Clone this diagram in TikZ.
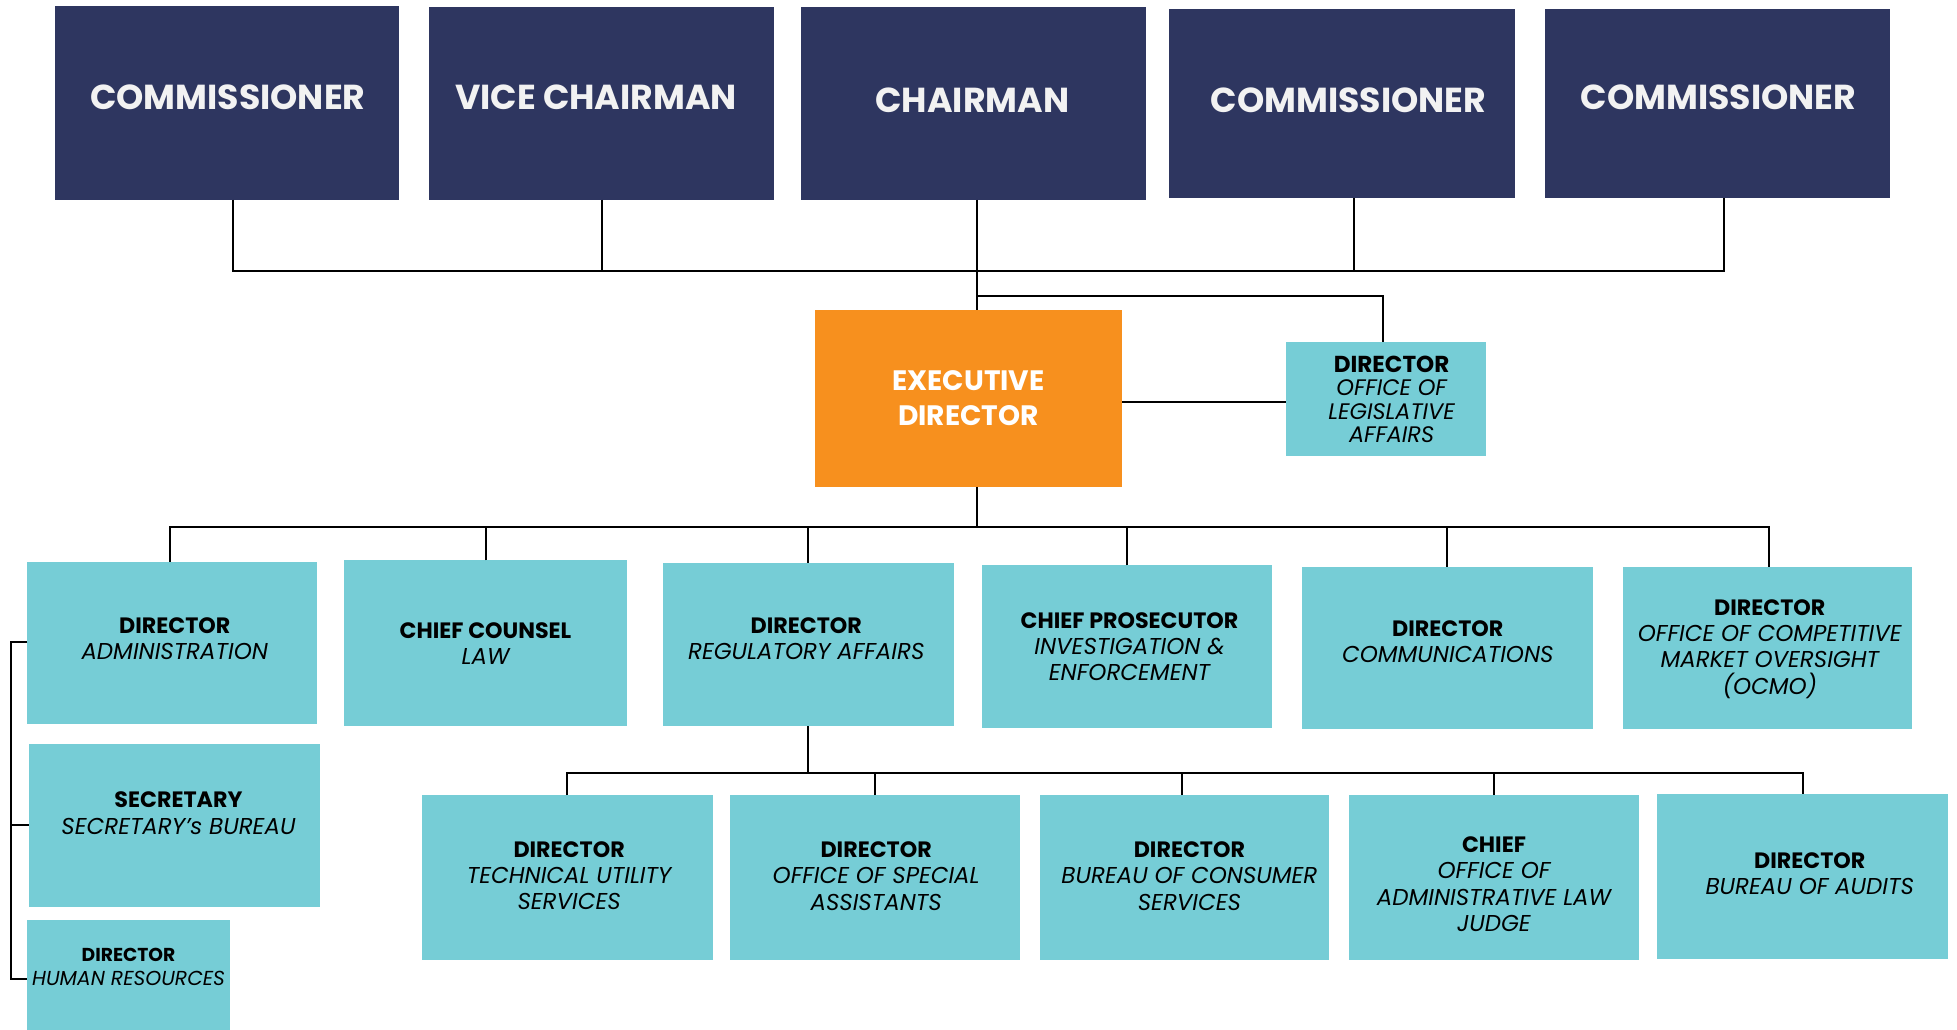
\documentclass[tikz,border=0pt]{standalone}
\usepackage{fontspec}
\setmainfont{Poppins}
\definecolor{navy}{HTML}{2E3660}
\definecolor{orng}{HTML}{F7901E}
\definecolor{teal}{HTML}{76CDD6}
\definecolor{offw}{HTML}{F2F2F2}
\newcommand{\hd}[1]{{\fontsize{\tbs}{\lsk}\selectfont\bfseries #1}}
\newcommand{\subt}[1]{{\fontsize{\tis}{\lsk}\selectfont\itshape #1}}
\tikzset{
  bx/.style={inner sep=0pt, outer sep=0pt, anchor=north west},
  navybox/.style={bx, fill=navy},
  orbox/.style={bx, fill=orng},
  tlbox/.style={bx, fill=teal},
  toptxt/.style={inner sep=0pt, text=offw, font=\fontsize{27.8}{32}\selectfont\bfseries},
  edtxt/.style={inner sep=0pt, text=white, align=center, font=\fontsize{22.5}{28}\selectfont\bfseries},
  txt/.style={inner sep=0pt, text=black, align=center, font={\def\tbs{17.8}\def\tis{18.4}\def\lsk{21}\fontsize{17.8}{21}\selectfont}},
  smtxt/.style={inner sep=0pt, text=black, align=center, font={\def\tbs{18.5}\def\tis{18}\def\lsk{18.7}\fontsize{18}{18.7}\selectfont}},
  hrtxt/.style={inner sep=0pt, text=black, align=center, font={\def\tbs{15}\def\tis{16.2}\def\lsk{19}\fontsize{15}{19}\selectfont}},
  conn/.style={draw=black, line width=1.6pt}
}
\newcommand{\bxat}[6]{\node[#1, minimum width={(#5-#3)*1pt}, minimum height={(#6-#4)*1pt}] (#2) at (#3,#4) {};}
\begin{document}
\begin{tikzpicture}[x=1pt,y=-1pt]
\useasboundingbox[fill=white] (0,0) rectangle (1568,824.5);
% top row
\bxat{navybox}{c1}{44}{5}{320}{160}
\bxat{navybox}{vc}{344}{6}{620}{160}
\bxat{navybox}{ch}{642}{6}{918}{160}
\bxat{navybox}{c4}{937}{7}{1214}{159}
\bxat{navybox}{c5}{1238}{7}{1514}{159}
\node[toptxt] (c1t) at (182.5,78) {COMMISSIONER};
\node[toptxt] (vct) at (477.5,78) {VICE CHAIRMAN};
\node[toptxt] (cht) at (779,80) {CHAIRMAN};
\node[toptxt] (c4t) at (1080.5,80) {COMMISSIONER};
\node[toptxt] (c5t) at (1377,78) {COMMISSIONER};
% executive director and legislative affairs
\bxat{orbox}{ed}{653}{248}{899}{390}
\node[edtxt] (edt) at (776,319) {EXECUTIVE\\DIRECTOR};
\bxat{tlbox}{leg}{1030}{274}{1191}{365}
\node[smtxt] (legt) at (1115,320) {\hd{DIRECTOR}\\\subt{OFFICE OF}\\\subt{LEGISLATIVE}\\\subt{AFFAIRS}};
% second row
\bxat{tlbox}{adm}{22}{450}{254}{580}
\bxat{tlbox}{cc}{276}{449}{502}{582}
\bxat{tlbox}{reg}{531}{451}{764}{582}
\bxat{tlbox}{pro}{787}{453}{1019}{583}
\bxat{tlbox}{com}{1043}{454}{1276}{584}
\bxat{tlbox}{ocmo}{1300}{454}{1532}{584}
\node[txt] (admt) at (140,512) {\hd{DIRECTOR}\\\subt{ADMINISTRATION}};
\node[txt] (cct) at (389,515.5) {\hd{CHIEF COUNSEL}\\\subt{LAW}};
\node[txt] (regt) at (646,512) {\hd{DIRECTOR}\\\subt{REGULATORY AFFAIRS}};
\node[txt] (prot) at (905,518) {\hd{CHIEF PROSECUTOR}\\\subt{INVESTIGATION \&}\\\subt{ENFORCEMENT}};
\node[txt] (comt) at (1160,514) {\hd{DIRECTOR}\\\subt{COMMUNICATIONS}};
\node[txt] (ocmot) at (1418,520) {\hd{DIRECTOR}\\\subt{OFFICE OF COMPETITIVE}\\\subt{MARKET OVERSIGHT}\\\subt{(OCMO)}};
% left column
\bxat{tlbox}{sec}{23}{596}{256}{727}
\bxat{tlbox}{hr}{22}{737}{184}{830}
\node[txt] (sect) at (143,651.5) {\hd{SECRETARY}\\\subt{SECRETARY's BUREAU}};
\node[hrtxt] (hrt) at (103,774.5) {\hd{DIRECTOR}\\\subt{HUMAN RESOURCES}};
% third row
\bxat{tlbox}{tech}{338}{637}{571}{769}
\bxat{tlbox}{spa}{585}{637}{817}{769}
\bxat{tlbox}{bcs}{833}{637}{1065}{769}
\bxat{tlbox}{alj}{1081}{637}{1313}{769}
\bxat{tlbox}{aud}{1328}{636}{1561}{768}
\node[txt] (techt) at (456,701.5) {\hd{DIRECTOR}\\\subt{TECHNICAL UTILITY}\\\subt{SERVICES}};
\node[txt] (spat) at (702,702) {\hd{DIRECTOR}\\\subt{OFFICE OF SPECIAL}\\\subt{ASSISTANTS}};
\node[txt] (bcst) at (953,702) {\hd{DIRECTOR}\\\subt{BUREAU OF CONSUMER}\\\subt{SERVICES}};
\node[txt] (aljt) at (1197,708.5) {\hd{CHIEF}\\\subt{OFFICE OF}\\\subt{ADMINISTRATIVE LAW}\\\subt{JUDGE}};
\node[txt] (audt) at (1450,700) {\hd{DIRECTOR}\\\subt{BUREAU OF AUDITS}};
% connectors: board
\coordinate (busT) at (0,217);
\draw[conn] ([xshift=5pt]c1.south) |- ([xshift=5pt]c5.south |- busT) -- ([xshift=5pt]c5.south);
\draw[conn] (vc.south) -- (vc.south |- busT);
\draw[conn] ([xshift=9.5pt]c4.south) -- ([xshift=9.5pt]c4.south |- busT);
\draw[conn] ([xshift=3pt]ch.south) -- ([xshift=3pt]ch.south |- ed.north);
\coordinate (busL) at (0,237);
\draw[conn] ([xshift=3pt]ch.south |- busL) -| ([xshift=-2.5pt]leg.north);
\coordinate (busE) at (0,322);
\draw[conn] (ed.east |- busE) -- (leg.west |- busE);
% connectors: directors
\coordinate (busD) at (0,422);
\draw[conn] ([xshift=7pt]ed.south) -- ([xshift=7pt]ed.south |- busD);
\draw[conn] ([xshift=-2pt]adm.north) |- ([xshift=1pt]ocmo.north |- busD) -- ([xshift=1pt]ocmo.north);
\draw[conn] (cc.north) -- (cc.north |- busD);
\draw[conn] (reg.north) -- (reg.north |- busD);
\draw[conn] (pro.north) -- (pro.north |- busD);
\draw[conn] (com.north) -- (com.north |- busD);
% connectors: regulatory affairs
\coordinate (busR) at (0,619);
\draw[conn] (reg.south) -- (reg.south |- busR);
\draw[conn] (tech.north) |- (aud.north |- busR) -- (aud.north);
\draw[conn] (spa.north) -- (spa.north |- busR);
\draw[conn] ([xshift=-2pt]bcs.north) -- ([xshift=-2pt]bcs.north |- busR);
\draw[conn] (alj.north) -- (alj.north |- busR);
% connectors: administration bracket
\coordinate (brT) at (9,514);
\coordinate (brM) at (9,661);
\coordinate (brB) at (9,784);
\draw[conn] (adm.west |- brT) -- (brT) -- (brB) -- (hr.west |- brB);
\draw[conn] (brM) -- (sec.west |- brM);
\end{tikzpicture}
\end{document}
